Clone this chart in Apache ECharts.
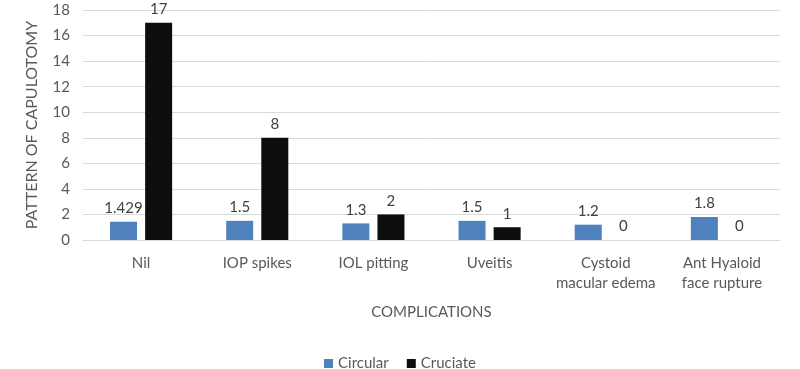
<!DOCTYPE html>
<html><head><meta charset="utf-8">
<script src="https://cdn.jsdelivr.net/npm/echarts@6/dist/echarts.min.js"></script>
<style>html,body{margin:0;padding:0;background:#fff}#c{width:800px;height:369px}</style>
</head><body><div id="c"></div>
<script>
const categories = ['Nil', 'IOP spikes', 'IOL pitting', 'Uveitis', 'Cystoid\nmacular edema', 'Ant Hyaloid\nface rupture'];
const circular = [1.429, 1.5, 1.3, 1.5, 1.2, 1.8];
const cruciate = [17, 8, 2, 1, 0, 0];
const seriesNames = ['Circular', 'Cruciate'];
const yTicks = {min: 0, max: 18, interval: 2};

const font = 'Lato';
const txt = '#595959';
const fs = 15;
const chart = echarts.init(document.getElementById('c'));
const lbl = {show: true, position: 'top', color: '#404040', fontFamily: font, fontSize: fs, distance: 6};
chart.setOption({
  animation: false,
  textStyle: {fontFamily: font},
  grid: {left: 83, right: 20, top: 10, bottom: 129},
  legend: {
    top: 351, left: 'center', itemWidth: 9, itemHeight: 9, itemGap: 18,
    icon: 'rect',
    textStyle: {color: txt, fontSize: fs, fontFamily: font}
  },
  xAxis: {
    type: 'category', data: categories,
    name: 'COMPLICATIONS', nameLocation: 'middle', nameGap: 65,
    nameTextStyle: {color: txt, fontSize: fs, fontFamily: font},
    axisLine: {lineStyle: {color: '#d9d9d9'}},
    axisTick: {show: false},
    axisLabel: {color: txt, fontSize: fs, fontFamily: font, margin: 13, lineHeight: 20, interval: 0},
  },
  yAxis: {
    type: 'value', min: yTicks.min, max: yTicks.max, interval: yTicks.interval,
    name: 'PATTERN OF CAPULOTOMY', nameLocation: 'middle', nameGap: 43,
    nameTextStyle: {color: txt, fontSize: 16, fontFamily: font},
    axisLabel: {color: txt, fontSize: fs, fontFamily: font, margin: 13},
    splitLine: {lineStyle: {color: '#d9d9d9'}},
    axisLine: {show: false}, axisTick: {show: false}
  },
  series: [
    {name: seriesNames[0], type: 'bar', data: circular, barWidth: 27, barGap: '30%',
     itemStyle: {color: '#4f81bd'}, label: lbl},
    {name: seriesNames[1], type: 'bar', data: cruciate, barWidth: 27,
     itemStyle: {color: '#0d0d0d'}, label: lbl}
  ]
});
</script></body></html>
